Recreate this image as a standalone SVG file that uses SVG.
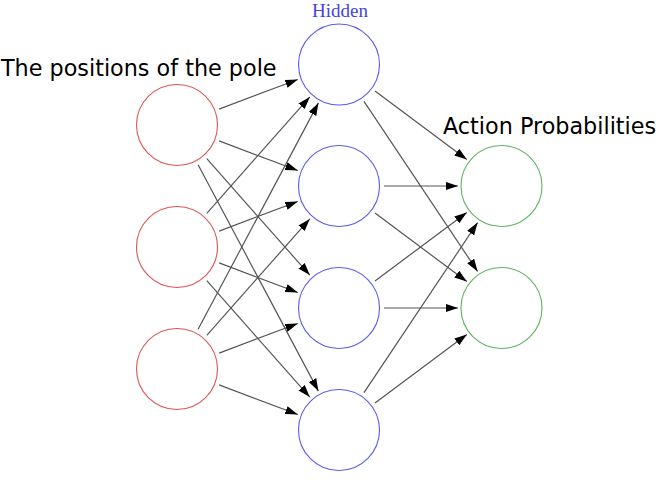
<svg xmlns="http://www.w3.org/2000/svg" width="660" height="495" viewBox="0 0 660 495">
<style>
.in{fill:none;stroke:#dd5555;stroke-width:1.1}
.hid{fill:none;stroke:#5b5bee;stroke-width:1.1}
.out{fill:none;stroke:#5fb35f;stroke-width:1.1}
.edge{stroke:#555;stroke-width:1.2;marker-end:url(#arr)}
.lbl{font-family:"DejaVu Sans",sans-serif;font-size:22.3px;fill:#000}
.hl{font-family:"Liberation Serif","DejaVu Serif",serif;font-size:19px;fill:#4444dd}
</style>
<defs>
<marker id="arr" markerUnits="userSpaceOnUse" markerWidth="13" markerHeight="9" refX="12.5" refY="4.5" orient="auto">
<path d="M0,0.3 L12.5,4.5 L0,8.7 z" fill="#000"/>
</marker>
</defs>
<rect width="660" height="495" fill="#fff"/>
<g id="connectors">
<line class="edge" x1="219.1" y1="109.1" x2="297.8" y2="79.5"/>
<line class="edge" x1="219.1" y1="140.9" x2="297.8" y2="170.5"/>
<line class="edge" x1="206.8" y1="158.7" x2="309.8" y2="275.1"/>
<line class="edge" x1="198.1" y1="164.7" x2="318.4" y2="391.1"/>
<line class="edge" x1="206.8" y1="213.3" x2="309.8" y2="96.9"/>
<line class="edge" x1="219.1" y1="231.1" x2="297.8" y2="201.5"/>
<line class="edge" x1="219.1" y1="262.9" x2="297.8" y2="292.5"/>
<line class="edge" x1="206.8" y1="280.7" x2="309.8" y2="397.1"/>
<line class="edge" x1="198.1" y1="329.3" x2="318.4" y2="102.9"/>
<line class="edge" x1="206.8" y1="335.3" x2="309.8" y2="218.9"/>
<line class="edge" x1="219.1" y1="353.1" x2="297.8" y2="323.5"/>
<line class="edge" x1="219.1" y1="384.9" x2="297.8" y2="414.5"/>
<line class="edge" x1="375" y1="91" x2="466.8" y2="159.6"/>
<line class="edge" x1="364" y1="101.4" x2="477.6" y2="271.4"/>
<line class="edge" x1="384" y1="186" x2="458" y2="186"/>
<line class="edge" x1="375" y1="213" x2="466.8" y2="281.6"/>
<line class="edge" x1="375" y1="281" x2="466.8" y2="212.4"/>
<line class="edge" x1="384" y1="308" x2="458" y2="308"/>
<line class="edge" x1="364" y1="392.6" x2="477.6" y2="222.6"/>
<line class="edge" x1="375" y1="403" x2="466.8" y2="334.4"/>
</g>
<g id="in1"><circle class="in" cx="177" cy="125" r="40.5"/></g>
<g id="in2"><circle class="in" cx="177" cy="247" r="40.5"/></g>
<g id="in3"><circle class="in" cx="177" cy="369" r="40.5"/></g>
<g id="h1"><circle class="hid" cx="339" cy="64.5" r="40.5"/></g>
<g id="h2"><circle class="hid" cx="339" cy="186" r="40.5"/></g>
<g id="h3"><circle class="hid" cx="339" cy="308" r="40.5"/></g>
<g id="h4"><circle class="hid" cx="339" cy="430" r="40.5"/></g>
<g id="o1"><circle class="out" cx="501.5" cy="186" r="40.5"/></g>
<g id="o2"><circle class="out" cx="501.5" cy="308" r="40.5"/></g>
<g id="labels">
<text class="hl" x="340" y="17" text-anchor="middle">Hidden</text>
<text class="lbl" x="1" y="76">The positions of the pole</text>
<text class="lbl" x="443" y="134">Action Probabilities</text>
</g>
</svg>
